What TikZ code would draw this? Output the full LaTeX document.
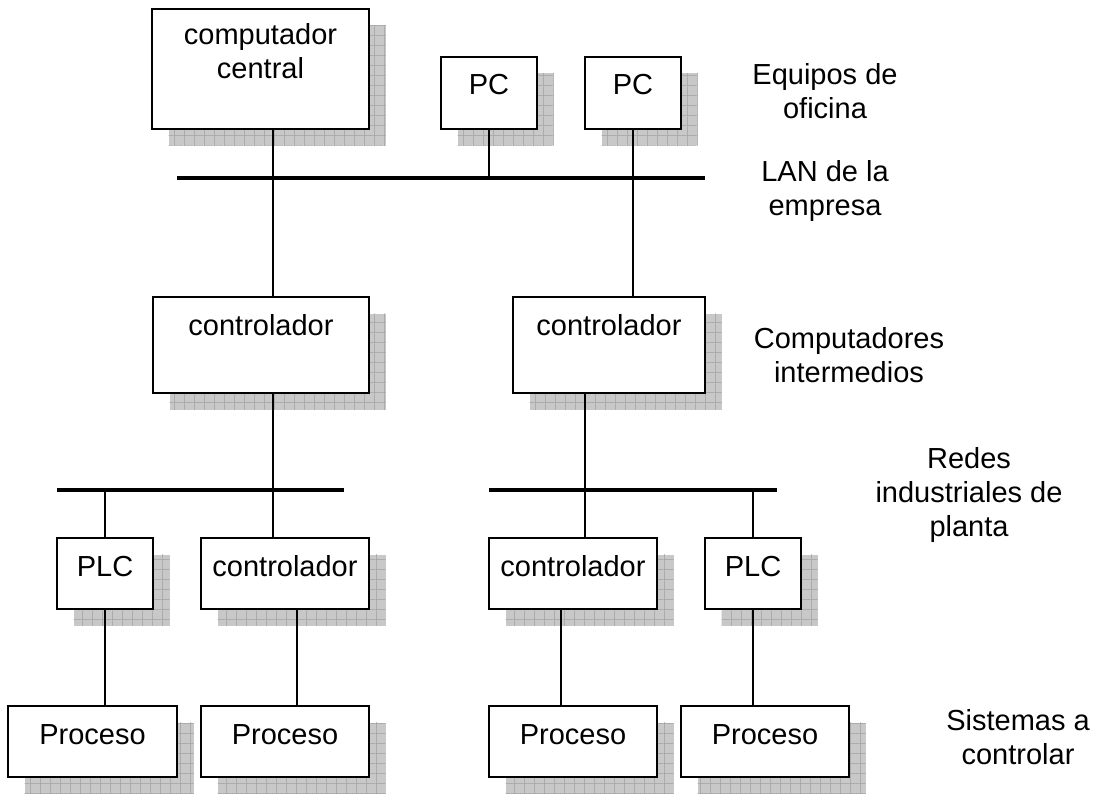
\documentclass[tikz,border=0pt]{standalone}
\usepackage{fontspec}
\setmainfont{Liberation Sans}
\usetikzlibrary{patterns.meta,calc}
\definecolor{shbg}{RGB}{200,200,200}
\definecolor{shln}{RGB}{158,158,158}
\pgfdeclarelayer{background}
\pgfsetlayers{background,main}
\tikzdeclarepattern{
  name=shgrid,
  type=uncolored,
  bottom left={(0pt,0pt)},
  top right={(10.3pt,10.3pt)},
  tile size={(10.3pt,10.3pt)},
  code={\draw[line width=0.6pt] (0pt,0.3pt) -- (10.3pt,0.3pt) (0.3pt,0pt) -- (0.3pt,10.3pt);}
}
\newcommand{\dropshadow}[1]{%
  \begin{pgfonlayer}{background}
    \path[fill=shbg] ($(#1.north west)+(16.5,16.5)$) rectangle ($(#1.south east)+(16.5,16.5)$);
    \path[pattern=shgrid, pattern color=shln] ($(#1.north west)+(16.5,16.5)$) rectangle ($(#1.south east)+(16.5,16.5)$);
  \end{pgfonlayer}}
\tikzset{
  unitbox/.style={draw=black, line width=1.8pt, fill=white, rectangle, inner sep=0pt, outer sep=0pt, anchor=north west},
  boxtext/.style={anchor=base, inner sep=0pt},
  sidetext/.style={align=center, inner sep=0pt},
  link/.style={line width=1.7pt},
  bus/.style={line width=4pt},
}
\begin{document}
\begin{tikzpicture}[x=1pt,y=-1pt, font=\fontsize{29}{34}\selectfont]
\useasboundingbox (0,0) rectangle (1102,794);
\begin{pgfonlayer}{background}
\fill[white] (0,0) rectangle (1102,794);
\end{pgfonlayer}

% boxes
\node[unitbox, minimum width=217pt, minimum height=120pt] (central) at (152,9) {};
\node[unitbox, minimum width=96pt, minimum height=72pt] (pc1) at (441,57) {};
\node[unitbox, minimum width=96pt, minimum height=72pt] (pc2) at (585,57) {};
\node[unitbox, minimum width=216pt, minimum height=96pt] (ctrlL) at (153,297) {};
\node[unitbox, minimum width=192pt, minimum height=96pt] (ctrlR) at (513,297) {};
\node[unitbox, minimum width=96pt, minimum height=71pt] (plcL) at (57,538) {};
\node[unitbox, minimum width=168pt, minimum height=71pt] (ctrlA) at (201,538) {};
\node[unitbox, minimum width=168pt, minimum height=71pt] (ctrlB) at (489,538) {};
\node[unitbox, minimum width=96pt, minimum height=71pt] (plcR) at (705,538) {};
\node[unitbox, minimum width=169pt, minimum height=71pt] (procA) at (8,706) {};
\node[unitbox, minimum width=168pt, minimum height=71pt] (procB) at (201,706) {};
\node[unitbox, minimum width=168pt, minimum height=71pt] (procC) at (489,706) {};
\node[unitbox, minimum width=168pt, minimum height=71pt] (procD) at (681,706) {};

\foreach \n in {central,pc1,pc2,ctrlL,ctrlR,plcL,ctrlA,ctrlB,plcR,procA,procB,procC,procD}{\dropshadow{\n}}

% box texts
\node[sidetext] (central-t) at (260.5,51.6) {computador\\central};
\node[boxtext] (pc1-t) at ($(pc1.north)+(0,38)$) {PC};
\node[boxtext] (pc2-t) at ($(pc2.north)+(0,38)$) {PC};
\node[boxtext] (ctrlL-t) at ($(ctrlL.north)+(0,38)$) {controlador};
\node[boxtext] (ctrlR-t) at ($(ctrlR.north)+(0,38)$) {controlador};
\node[boxtext] (plcL-t) at ($(plcL.north)+(0,38)$) {PLC};
\node[boxtext] (ctrlA-t) at ($(ctrlA.north)+(0,38)$) {controlador};
\node[boxtext] (ctrlB-t) at ($(ctrlB.north)+(0,38)$) {controlador};
\node[boxtext] (plcR-t) at ($(plcR.north)+(0,38)$) {PLC};
\node[boxtext] (procA-t) at ($(procA.north)+(0,38)$) {Proceso};
\node[boxtext] (procB-t) at ($(procB.north)+(0,38)$) {Proceso};
\node[boxtext] (procC-t) at ($(procC.north)+(0,38)$) {Proceso};
\node[boxtext] (procD-t) at ($(procD.north)+(0,38)$) {Proceso};

% side labels
\node[sidetext] (lab1) at (825,91.6) {Equipos de\\oficina};
\node[sidetext] (lab2) at (825,190.6) {LAN de la\\empresa};
\node[sidetext] (lab3) at (849,355.6) {Computadores\\intermedios};
\node[sidetext] (lab4) at (969,494.7) {Redes\\industriales de\\planta};
\node[sidetext] (lab5) at (1018,737.6) {Sistemas a\\controlar};

% buses
\coordinate (lanL) at (177,178);
\coordinate (lanR) at (705,178);
\coordinate (busLl) at (57,490);
\coordinate (busLr) at (344,490);
\coordinate (busRl) at (489,490);
\coordinate (busRr) at (777,490);
\draw[bus] (lanL) -- (lanR);
\draw[bus] (busLl) -- (busLr);
\draw[bus] (busRl) -- (busRr);

% taps
\coordinate (tapA) at (273,178);
\coordinate (tapB) at (489,178);
\coordinate (tapC) at (633,178);
\coordinate (tapD) at (273,490);
\coordinate (tapE) at (105,490);
\coordinate (xF) at (297,600);
\coordinate (tapG) at (585,490);
\coordinate (xH) at (561,600);
\coordinate (tapI) at (753,490);

% connectors
\draw[link] (central.south -| tapA) -- (ctrlL.north -| tapA);
\draw[link] (pc1.south -| tapB) -- (tapB);
\draw[link] (pc2.south -| tapC) -- (ctrlR.north -| tapC);
\draw[link] (ctrlL.south -| tapD) -- (ctrlA.north -| tapD);
\draw[link] (tapE) -- (plcL.north -| tapE);
\draw[link] (plcL.south -| tapE) -- (procA.north -| tapE);
\draw[link] (ctrlA.south -| xF) -- (procB.north -| xF);
\draw[link] (ctrlR.south -| tapG) -- (ctrlB.north -| tapG);
\draw[link] (ctrlB.south -| xH) -- (procC.north -| xH);
\draw[link] (tapI) -- (plcR.north -| tapI);
\draw[link] (plcR.south -| tapI) -- (procD.north -| tapI);
\end{tikzpicture}
\end{document}
